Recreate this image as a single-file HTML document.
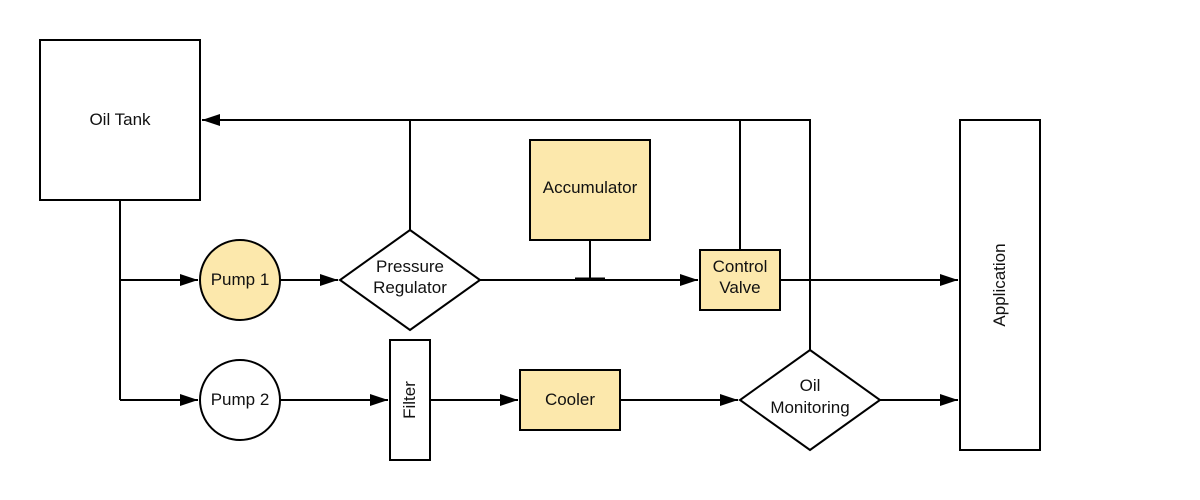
<!DOCTYPE html>
<html><head><meta charset="utf-8"><style>
html,body{margin:0;padding:0;background:#fff;}
svg{display:block;}
text{font-family:"Liberation Sans",sans-serif;font-size:17px;fill:#111;text-anchor:middle;}
</style></head><body>
<svg width="1200" height="500" viewBox="0 0 1200 500">
<defs><marker id="a" markerWidth="20" markerHeight="14" refX="18" refY="7" orient="auto" markerUnits="userSpaceOnUse"><path d="M0,1 L18,7 L0,13 z" fill="#000"/></marker></defs>
<g stroke="#000" stroke-width="2" fill="none">
<rect x="40" y="40" width="160" height="160" fill="#fff"/>
<path d="M810,350 V120 H202" marker-end="url(#a)"/>
<path d="M410,230 V120"/>
<path d="M740,250 V120"/>
<path d="M120,200 V400"/>
<path d="M120,280 H198" marker-end="url(#a)"/>
<path d="M120,400 H198" marker-end="url(#a)"/>
<circle cx="240" cy="280" r="40" fill="#fce8ac"/>
<circle cx="240" cy="400" r="40" fill="#fff"/>
<path d="M280,280 H338" marker-end="url(#a)"/>
<polygon points="410,230 480,280 410,330 340,280" fill="#fff"/>
<path d="M480,280 H698" marker-end="url(#a)"/>
<rect x="530" y="140" width="120" height="100" fill="#fce8ac"/>
<path d="M590,240 V279"/>
<path d="M575,279 H605" stroke-width="3"/>
<rect x="700" y="250" width="80" height="60" fill="#fce8ac"/>
<path d="M780,280 H958" marker-end="url(#a)"/>
<rect x="960" y="120" width="80" height="330" fill="#fff"/>
<path d="M280,400 H388" marker-end="url(#a)"/>
<rect x="390" y="340" width="40" height="120" fill="#fff"/>
<path d="M430,400 H518" marker-end="url(#a)"/>
<rect x="520" y="370" width="100" height="60" fill="#fce8ac"/>
<path d="M620,400 H738" marker-end="url(#a)"/>
<polygon points="810,350 880,400 810,450 740,400" fill="#fff"/>
<path d="M880,400 H958" marker-end="url(#a)"/>
</g>
<text x="120" y="125">Oil Tank</text>
<text x="240" y="285">Pump 1</text>
<text x="240" y="405">Pump 2</text>
<text x="410" y="272">Pressure</text>
<text x="410" y="293">Regulator</text>
<text x="590" y="193">Accumulator</text>
<text x="740" y="272">Control</text>
<text x="740" y="293">Valve</text>
<text x="570" y="405">Cooler</text>
<text x="810" y="391">Oil</text>
<text x="810" y="413">Monitoring</text>
<text transform="translate(1005,285) rotate(-90)">Application</text>
<text transform="translate(415,400) rotate(-90)">Filter</text>
</svg>
</body></html>
